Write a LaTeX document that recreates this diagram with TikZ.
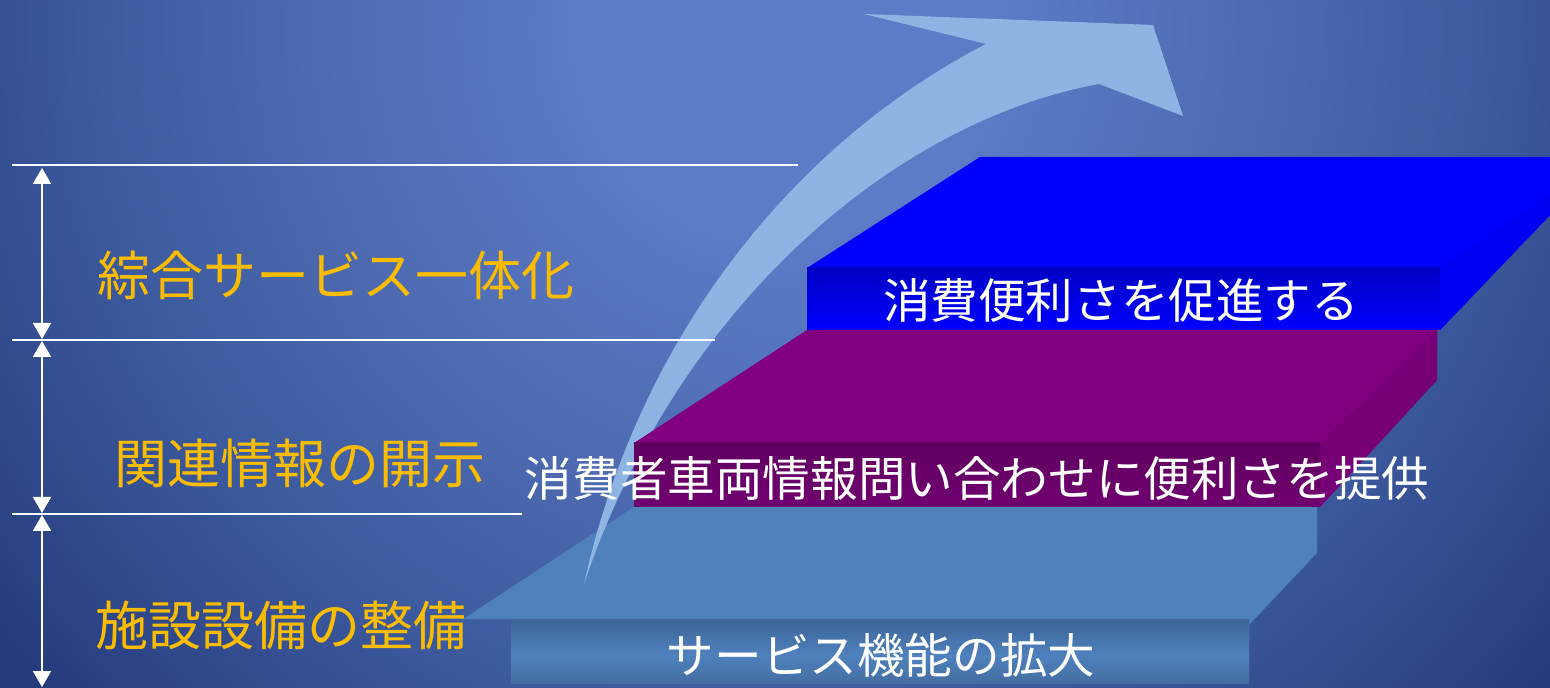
\documentclass[tikz,border=0pt]{standalone}
\usepackage{fontspec}
\newfontfamily\jp{Noto Sans CJK JP}
\usetikzlibrary{arrows.meta}
\definecolor{bg0}{RGB}{92,124,200}
\definecolor{bg1}{RGB}{76,105,175}
\definecolor{bg2}{RGB}{60,90,158}
\definecolor{bg3}{RGB}{38,59,124}
\pgfdeclareradialshading{bgshade}{\pgfpoint{0bp}{0bp}}{color(0bp)=(bg0); color(5bp)=(bg0); color(12.5bp)=(bg1); color(17.5bp)=(bg2); color(25bp)=(bg3); color(50bp)=(bg3)}
\definecolor{arrowc}{RGB}{142,180,227}
\definecolor{slabL}{RGB}{79,129,189}
\definecolor{slabLd}{RGB}{60,100,150}
\definecolor{slabP}{RGB}{128,0,128}
\definecolor{slabPd}{RGB}{96,0,96}
\definecolor{slabB}{RGB}{0,0,255}
\definecolor{slabBd}{RGB}{0,0,196}
\definecolor{gold}{RGB}{250,188,0}
\tikzset{
  goldtext/.style={font=\jp\fontsize{26.5}{30}\selectfont, text=gold, inner sep=0pt},
  whitetext/.style={font=\jp\fontsize{23.8}{28}\selectfont, text=white, inner sep=0pt},
  guide/.style={draw=white, line width=1pt},
  span/.style={draw=white, line width=1pt, {Triangle[width=9pt,length=8pt]}-{Triangle[width=9pt,length=8pt]}}
}
\begin{document}
\begin{tikzpicture}[x=0.5pt,y=-0.5pt]
\useasboundingbox (0,0) rectangle (1550,688);
% background
\fill[bg3] (0,0) rectangle (1550,688);
\begin{scope}
\clip (0,0) rectangle (1550,688);
\shade[shading=bgshade] (790,30) ellipse (1000 and 1000);
\end{scope}
% bottom slab
\fill[slabL] (463,619) -- (634,507) -- (1317,507) -- (1317,553) -- (1249,625) -- (1249,683) -- (511,683) -- (511,619) -- cycle;
\shade[top color=slabLd, bottom color=slabL] (511,619) rectangle (1249,655);
\shade[top color=slabL, bottom color=slabL!85!black] (511,655) rectangle (1249,683);
% big arrow
\fill[arrowc] (584,584) .. controls (640,330) and (800,140) .. (986,44) -- (864,14) -- (1153,25) -- (1183,116) -- (1099,84) .. controls (900,120) and (680,300) .. (584,584) -- cycle;
% purple slab
\fill[slabP] (634,443) -- (807,330) -- (1437,330) -- (1437,380) -- (1320,507) -- (634,507) -- cycle;
\fill[slabP!92!black] (1320,443) -- (1437,330) -- (1437,380) -- (1320,507) -- cycle;
\shade[top color=slabPd, bottom color=slabP!88!black] (634,443) rectangle (1320,507);
% blue slab
\fill[slabB] (807,268) -- (980,157) -- (1550,157) -- (1550,215) -- (1440,330) -- (807,330) -- cycle;
\fill[slabB!95!black] (1440,268) -- (1550,195) -- (1550,215) -- (1440,330) -- cycle;
\shade[top color=slabBd, bottom color=slabB] (807,268) rectangle (1440,330);
% guide lines
\coordinate (l1a) at (12,165); \coordinate (l1b) at (798,165);
\coordinate (l2a) at (12,340); \coordinate (l2b) at (715,340);
\coordinate (l3a) at (12,514); \coordinate (l3b) at (522,514);
\draw[guide] (l1a) -- (l1b);
\draw[guide] (l2a) -- (l2b);
\draw[guide] (l3a) -- (l3b);
% span arrows
\coordinate (s1a) at (42,168); \coordinate (s1b) at (42,339);
\coordinate (s2a) at (42,341); \coordinate (s2b) at (42,513);
\coordinate (s3a) at (42,515); \coordinate (s3b) at (42,687);
\draw[span] (s1a) -- (s1b);
\draw[span] (s2a) -- (s2b);
\draw[span] (s3a) -- (s3b);
% texts
\node[goldtext] (g1) at (336,275) {綜合サービス一体化};
\node[goldtext] (g2) at (300,463) {関連情報の開示};
\node[goldtext] (g3) at (281,625) {施設設備の整備};
\node[whitetext] (w1) at (1121,300) {消費便利さを促進する};
\node[whitetext] (w2) at (977,478) {消費者車両情報問い合わせに便利さを提供};
\node[whitetext] (w3) at (881,655) {サービス機能の拡大};
\end{tikzpicture}
\end{document}
